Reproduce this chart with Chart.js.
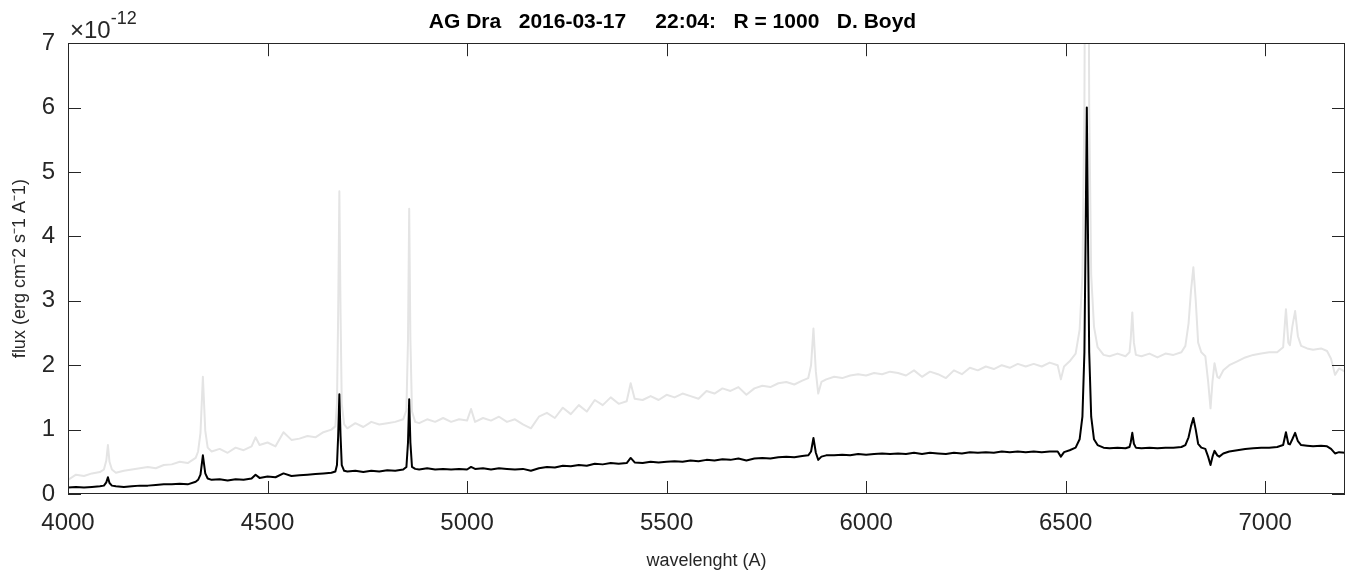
<!DOCTYPE html>
<html>
<head>
<meta charset="utf-8">
<script src="https://cdn.jsdelivr.net/npm/chart.js@4/dist/chart.umd.min.js"></script>
<style>
  html, body { margin: 0; padding: 0; background: #fff; }
  canvas { display: block; }
</style>
</head>
<body>
<canvas id="spec" width="1351" height="573"></canvas>
<script>
// wavelength (A) and flux in units of 1e-12 erg cm-2 s-1 A-1
const wavelength = [
    4000, 4020, 4040, 4060, 4080, 4090, 4096, 4100, 4104, 4110,
    4120, 4140, 4160, 4180, 4200, 4220, 4240, 4260, 4280, 4300,
    4320, 4326, 4332, 4338, 4344, 4350, 4360, 4380, 4400, 4420,
    4440, 4460, 4470, 4480, 4500, 4520, 4540, 4560, 4580, 4600,
    4620, 4640, 4660, 4670, 4674, 4677, 4680, 4683, 4686, 4692,
    4700, 4720, 4740, 4760, 4780, 4800, 4820, 4840, 4848, 4852,
    4855, 4858, 4862, 4870, 4880, 4900, 4920, 4940, 4960, 4980,
    5000, 5010, 5020, 5040, 5060, 5080, 5100, 5120, 5140, 5160,
    5180, 5200, 5220, 5240, 5260, 5280, 5300, 5320, 5340, 5360,
    5380, 5400, 5410, 5420, 5440, 5460, 5480, 5500, 5520, 5540,
    5560, 5580, 5600, 5620, 5640, 5660, 5680, 5700, 5720, 5740,
    5760, 5780, 5800, 5820, 5840, 5855, 5862, 5868, 5874, 5880,
    5888, 5900, 5920, 5940, 5960, 5980, 6000, 6020, 6040, 6060,
    6080, 6100, 6120, 6140, 6160, 6180, 6200, 6220, 6240, 6260,
    6280, 6300, 6320, 6340, 6360, 6380, 6400, 6420, 6440, 6460,
    6480, 6488, 6496, 6510, 6525, 6535, 6542, 6547, 6550, 6553,
    6556, 6559, 6564, 6571, 6580, 6595, 6610, 6630, 6650, 6660,
    6663, 6667, 6671, 6676, 6690, 6710, 6730, 6750, 6770, 6790,
    6800, 6808, 6814, 6820, 6826, 6832, 6840, 6850, 6857, 6863,
    6868, 6873, 6880, 6885, 6895, 6910, 6930, 6950, 6970, 6990,
    7010, 7030, 7045, 7052, 7058, 7062, 7068, 7075, 7082, 7090,
    7105, 7120, 7140, 7155, 7165, 7175, 7185, 7200,
]

// observed spectrum (black)
const fluxBlack = [
    0.10, 0.11, 0.10, 0.11, 0.12, 0.13, 0.18, 0.26, 0.17, 0.13,
    0.12, 0.11, 0.12, 0.13, 0.13, 0.14, 0.15, 0.15, 0.16, 0.15,
    0.19, 0.22, 0.30, 0.60, 0.32, 0.24, 0.22, 0.23, 0.21, 0.23,
    0.22, 0.24, 0.30, 0.25, 0.27, 0.26, 0.32, 0.28, 0.29, 0.30,
    0.31, 0.32, 0.33, 0.35, 0.45, 0.90, 1.55, 0.90, 0.45, 0.36,
    0.35, 0.36, 0.34, 0.36, 0.35, 0.37, 0.36, 0.38, 0.42, 0.80,
    1.47, 0.80, 0.42, 0.39, 0.38, 0.40, 0.38, 0.39, 0.38, 0.39,
    0.38, 0.42, 0.39, 0.40, 0.38, 0.40, 0.39, 0.38, 0.39, 0.36,
    0.40, 0.42, 0.41, 0.44, 0.43, 0.45, 0.44, 0.47, 0.46, 0.48,
    0.47, 0.48, 0.56, 0.49, 0.48, 0.50, 0.49, 0.50, 0.51, 0.50,
    0.52, 0.51, 0.53, 0.52, 0.54, 0.53, 0.55, 0.52, 0.55, 0.56,
    0.55, 0.57, 0.58, 0.57, 0.59, 0.60, 0.66, 0.87, 0.64, 0.53,
    0.58, 0.60, 0.60, 0.61, 0.60, 0.62, 0.61, 0.62, 0.63, 0.62,
    0.63, 0.62, 0.64, 0.62, 0.64, 0.63, 0.62, 0.64, 0.63, 0.65,
    0.64, 0.65, 0.64, 0.66, 0.65, 0.66, 0.65, 0.66, 0.65, 0.66,
    0.66, 0.58, 0.65, 0.68, 0.72, 0.85, 1.20, 2.20, 4.00, 6.00,
    4.00, 2.20, 1.20, 0.85, 0.76, 0.72, 0.71, 0.72, 0.71, 0.73,
    0.80, 0.95, 0.78, 0.72, 0.71, 0.72, 0.71, 0.72, 0.72, 0.73,
    0.76, 0.88, 1.05, 1.18, 1.00, 0.78, 0.72, 0.70, 0.58, 0.45,
    0.58, 0.67, 0.60, 0.58, 0.63, 0.66, 0.68, 0.70, 0.71, 0.72,
    0.72, 0.73, 0.76, 0.96, 0.78, 0.77, 0.85, 0.95, 0.82, 0.76,
    0.75, 0.74, 0.75, 0.74, 0.70, 0.63, 0.65, 0.64,
]

// scaled spectrum (light grey)
const fluxGray = [
    0.22, 0.30, 0.28, 0.32, 0.34, 0.38, 0.52, 0.76, 0.50, 0.38,
    0.33, 0.36, 0.38, 0.40, 0.42, 0.40, 0.45, 0.46, 0.50, 0.48,
    0.56, 0.66, 0.95, 1.82, 0.98, 0.72, 0.66, 0.70, 0.64, 0.72,
    0.68, 0.74, 0.88, 0.76, 0.80, 0.74, 0.96, 0.84, 0.86, 0.90,
    0.88, 0.96, 1.00, 1.05, 1.40, 2.80, 4.70, 2.80, 1.40, 1.08,
    1.02, 1.10, 1.04, 1.12, 1.08, 1.10, 1.12, 1.16, 1.30, 2.40,
    4.43, 2.40, 1.28, 1.12, 1.10, 1.16, 1.12, 1.18, 1.12, 1.16,
    1.14, 1.32, 1.12, 1.18, 1.14, 1.20, 1.12, 1.16, 1.08, 1.02,
    1.20, 1.26, 1.18, 1.34, 1.24, 1.38, 1.28, 1.46, 1.38, 1.50,
    1.40, 1.44, 1.72, 1.48, 1.46, 1.52, 1.46, 1.54, 1.50, 1.56,
    1.52, 1.48, 1.60, 1.56, 1.64, 1.60, 1.66, 1.54, 1.64, 1.68,
    1.66, 1.72, 1.74, 1.70, 1.76, 1.80, 2.00, 2.57, 1.90, 1.56,
    1.74, 1.78, 1.82, 1.80, 1.84, 1.86, 1.84, 1.88, 1.86, 1.90,
    1.88, 1.84, 1.92, 1.82, 1.90, 1.86, 1.80, 1.92, 1.86, 1.96,
    1.92, 1.98, 1.94, 2.00, 1.96, 2.02, 1.98, 2.02, 1.98, 2.04,
    2.00, 1.78, 1.98, 2.06, 2.18, 2.55, 3.40, 6.00, 11.0, 18.0,
    11.0, 6.00, 3.40, 2.60, 2.28, 2.16, 2.14, 2.18, 2.14, 2.20,
    2.40, 2.82, 2.35, 2.16, 2.14, 2.18, 2.12, 2.18, 2.16, 2.20,
    2.30, 2.65, 3.15, 3.52, 3.00, 2.35, 2.20, 2.14, 1.75, 1.33,
    1.75, 2.03, 1.82, 1.80, 1.92, 2.00, 2.06, 2.12, 2.16, 2.18,
    2.20, 2.20, 2.28, 2.87, 2.35, 2.31, 2.60, 2.84, 2.45, 2.30,
    2.26, 2.24, 2.26, 2.22, 2.10, 1.85, 1.95, 1.90,
]

const xTicks = [4000, 4500, 5000, 5500, 6000, 6500, 7000]
const yTicks = [0, 1, 2, 3, 4, 5, 6, 7]

const titleText = 'AG Dra   2016-03-17     22:04:   R = 1000   D. Boyd'
const xLabel = 'wavelenght (A)'
const yLabel = 'flux (erg cm\u207B2 s\u207B1 A\u207B1)'
const xRange = [4000, 7200]
const yRange = [0, 7]

const axisColor = '#262626'
const fontFamily = '"Liberation Sans", Arial, Helvetica, sans-serif'

Chart.defaults.font.family = fontFamily
Chart.defaults.color = axisColor

// MATLAB style box: full frame, inward ticks on all four sides, exponent label
const boxAxes = {
    id: 'boxAxes',
    afterDatasetsDraw(chart) {
        const { ctx, chartArea: area, scales } = chart
        const tick = 13

        ctx.save()
        ctx.strokeStyle = axisColor
        ctx.lineWidth = 1
        ctx.beginPath()

        scales.x.ticks.forEach((t) => {
            const px = Math.round(scales.x.getPixelForValue(t.value)) + 0.5
            ctx.moveTo(px, area.bottom)
            ctx.lineTo(px, area.bottom - tick)
            ctx.moveTo(px, area.top)
            ctx.lineTo(px, area.top + tick)
        })

        scales.y.ticks.forEach((t) => {
            const py = Math.round(scales.y.getPixelForValue(t.value)) + 0.5
            ctx.moveTo(area.left, py)
            ctx.lineTo(area.left + tick, py)
            ctx.moveTo(area.right, py)
            ctx.lineTo(area.right - tick, py)
        })

        ctx.stroke()
        ctx.strokeRect(
            Math.round(area.left) + 0.5,
            Math.round(area.top) + 0.5,
            Math.round(area.right - area.left) - 1,
            Math.round(area.bottom - area.top) - 1,
        )

        ctx.fillStyle = axisColor
        ctx.textBaseline = 'alphabetic'
        ctx.textAlign = 'left'
        ctx.font = '24px ' + fontFamily
        ctx.fillText('\u00D710', area.left + 2, 38)
        const w = ctx.measureText('\u00D710').width
        ctx.font = '18px ' + fontFamily
        ctx.fillText('-12', area.left + 2 + w, 24)

        ctx.restore()
    },
}

new Chart(document.getElementById('spec'), {
    type: 'line',
    data: {
        datasets: [
            {
                data: wavelength.map((w, i) => ({ x: w, y: fluxBlack[i] })),
                borderColor: '#000000',
                borderWidth: 2,
            },
            {
                data: wavelength.map((w, i) => ({ x: w, y: fluxGray[i] })),
                borderColor: '#e4e4e4',
                borderWidth: 2,
            },
        ],
    },
    options: {
        responsive: false,
        animation: false,
        events: [],
        elements: {
            point: { radius: 0 },
            line: { tension: 0, borderJoinStyle: 'round' },
        },
        layout: { padding: { left: 0, right: 6, top: 0, bottom: 0 } },
        plugins: {
            legend: { display: false },
            tooltip: { enabled: false },
            title: {
                display: true,
                text: titleText,
                color: '#000000',
                font: { size: 21, weight: 'bold' },
                padding: { top: 10, bottom: 8 },
            },
        },
        scales: {
            x: {
                type: 'linear',
                min: xRange[0],
                max: xRange[1],
                grid: { display: false, drawTicks: false },
                border: { display: false },
                afterBuildTicks(scale) {
                    scale.ticks = xTicks.map((v) => ({ value: v }))
                },
                ticks: {
                    autoSkip: false,
                    maxRotation: 0,
                    padding: 15,
                    color: axisColor,
                    font: { size: 24 },
                    callback: (v) => String(v),
                },
                title: {
                    display: true,
                    text: xLabel,
                    color: axisColor,
                    font: { size: 18 },
                    padding: { top: 0, bottom: 1 },
                },
                afterFit(scale) {
                    scale.height = 79
                },
            },
            y: {
                min: yRange[0],
                max: yRange[1],
                grid: { display: false, drawTicks: false },
                border: { display: false },
                afterBuildTicks(scale) {
                    scale.ticks = yTicks.map((v) => ({ value: v }))
                },
                ticks: {
                    autoSkip: false,
                    padding: 13,
                    color: axisColor,
                    font: { size: 24 },
                    callback: (v) => String(v),
                },
                title: {
                    display: true,
                    text: yLabel,
                    color: axisColor,
                    font: { size: 18 },
                    padding: { top: 9, bottom: 0 },
                },
                afterFit(scale) {
                    scale.width = 68
                },
            },
        },
    },
    plugins: [boxAxes],
})
</script>
</body>
</html>
